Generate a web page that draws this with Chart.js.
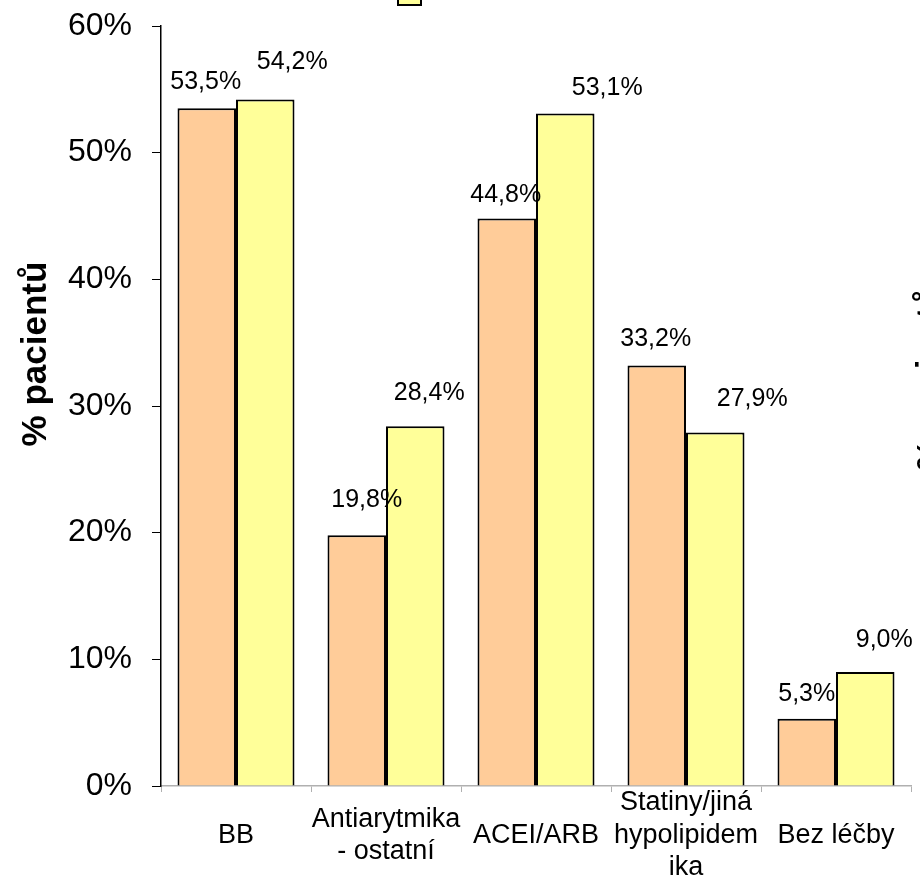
<!DOCTYPE html>
<html>
<head>
<meta charset="utf-8">
<script src="https://cdn.jsdelivr.net/npm/chart.js@4"></script>
<style>
  html, body { margin: 0; padding: 0; background: #fff; }
  #wrap { width: 920px; height: 879px; }
</style>
</head>
<body>
<div id="wrap"><canvas id="chart"></canvas></div>
<script>
// data
const categories = ['BB', ['Antiarytmika', '- ostatní'], 'ACEI/ARB', ['Statiny/jiná', 'hypolipidem', 'ika'], 'Bez léčby'];
const seriesNames = ['Soubor 1', 'Soubor 2'];
const series1 = [53.5, 19.8, 44.8, 33.2, 5.3];
const series2 = [54.2, 28.4, 53.1, 27.9, 9.0];
const yTicks = [0, 10, 20, 30, 40, 50, 60];
const axisTitle = '% pacientů';

const FONT = '"Liberation Sans", Arial, sans-serif';

// hand placed value labels (dx, dy from top centre of each bar), like in the original
const labelShift = [
    [[-1, -26], [10, -35], [-1, -23], [-1, -26], [0, -25]],
    [[27, -37], [14, -33], [42, -25], [37, -33], [19, -32]]
];

function fmt(v) {
    return v.toFixed(1).replace('.', ',') + '%';
}

const valueLabels = {
    id: 'valueLabels',
    afterDatasetsDraw(chart) {
        const ctx = chart.ctx;
        ctx.save();
        ctx.font = '25px ' + FONT;
        ctx.fillStyle = '#000';
        ctx.textAlign = 'center';
        ctx.textBaseline = 'middle';
        chart.data.datasets.forEach((ds, di) => {
            const meta = chart.getDatasetMeta(di);
            meta.data.forEach((bar, i) => {
                const s = labelShift[di][i];
                ctx.fillText(fmt(ds.data[i]), bar.x + s[0], bar.y + s[1]);
            });
        });
        ctx.restore();
    }
};

// rotated axis title, the cut legend swatch and the edge of the next chart
const extras = {
    id: 'extras',
    afterDraw(chart) {
        const ctx = chart.ctx;
        ctx.save();
        ctx.font = 'bold 35px ' + FONT;
        ctx.fillStyle = '#000';
        ctx.textAlign = 'center';
        ctx.textBaseline = 'alphabetic';
        ctx.translate(46, 354);
        ctx.rotate(-Math.PI / 2);
        ctx.fillText(axisTitle, 0, 0);
        ctx.restore();

        ctx.save();
        ctx.font = 'bold 35px ' + FONT;
        ctx.fillStyle = '#000';
        ctx.textAlign = 'center';
        ctx.textBaseline = 'alphabetic';
        ctx.translate(941, 378);
        ctx.rotate(-Math.PI / 2);
        ctx.fillText(axisTitle, 0, 0);
        ctx.restore();

        ctx.save();
        ctx.fillStyle = '#FFFF99';
        ctx.strokeStyle = '#000';
        ctx.lineWidth = 2;
        ctx.fillRect(398, -20, 23, 25);
        ctx.strokeRect(398, -20, 23, 25);
        ctx.restore();
    }
};

new Chart(document.getElementById('chart'), {
    type: 'bar',
    data: {
        labels: categories,
        datasets: [
            { label: seriesNames[0], data: series1, backgroundColor: '#FFCC99', borderColor: '#000', borderWidth: 2 },
            { label: seriesNames[1], data: series2, backgroundColor: '#FFFF99', borderColor: '#000', borderWidth: 2 }
        ]
    },
    plugins: [valueLabels, extras],
    options: {
        responsive: true,
        maintainAspectRatio: false,
        animation: false,
        layout: { padding: { top: 26, right: 9, left: 0, bottom: 0 } },
        datasets: { bar: { categoryPercentage: 0.78, barPercentage: 1.0 } },
        plugins: {
            legend: { display: false },
            tooltip: { enabled: false }
        },
        scales: {
            x: {
                grid: { drawOnChartArea: false, drawTicks: true, tickLength: 6, color: '#B0B0B0', offset: true },
                border: { display: true, color: '#B0B0B0', width: 1.5 },
                ticks: {
                    font: { family: FONT, size: 27, lineHeight: 1.2 },
                    color: '#000',
                    padding: 11,
                    maxRotation: 0,
                    autoSkip: false,
                    crossAlign: 'center'
                },
                afterFit(scale) {
                    scale.height = 93;
                    scale.paddingLeft = 0;
                    scale.paddingRight = 0;
                }
            },
            y: {
                min: 0,
                max: 60,
                afterBuildTicks(scale) { scale.ticks = yTicks.map(v => ({ value: v })); },
                grid: { drawOnChartArea: false, drawTicks: true, tickLength: 9, color: '#000' },
                border: { display: true, color: '#000', width: 1.5 },
                ticks: {
                    font: { family: FONT, size: 32 },
                    color: '#000',
                    padding: 20,
                    callback: v => v + '%'
                },
                afterFit(scale) {
                    scale.width = 161;
                    scale.paddingTop = 0;
                    scale.paddingBottom = 0;
                }
            }
        }
    }
});
</script>
</body>
</html>
